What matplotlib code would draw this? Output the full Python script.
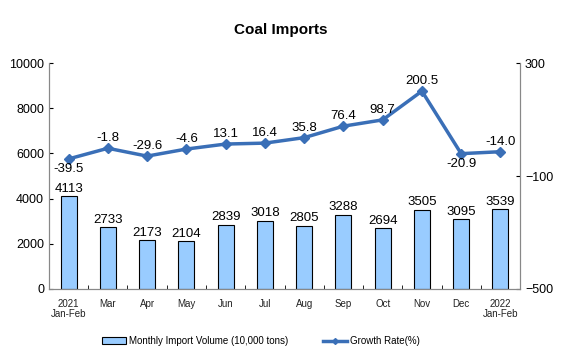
import matplotlib.pyplot as plt
from matplotlib.lines import Line2D
from matplotlib.patches import Patch

plt.rcParams['font.family'] = ['Liberation Sans', 'DejaVu Sans']

months = ["2021\nJan-Feb", "Mar", "Apr", "May", "Jun", "Jul", "Aug", "Sep",
          "Oct", "Nov", "Dec", "2022\nJan-Feb"]
volume = [4113, 2733, 2173, 2104, 2839, 3018, 2805, 3288, 2694, 3505, 3095, 3539]
growth = [-39.5, -1.8, -29.6, -4.6, 13.1, 16.4, 35.8, 76.4, 98.7, 200.5, -20.9, -14.0]
# which growth labels sit under the point
below = [True, False, False, False, False, False, False, False, False, False, True, False]

bar_color = "#99CCFF"
line_color = "#3A6FB7"

fig = plt.figure(figsize=(5.61, 3.57), dpi=100)
ax = fig.add_axes([0.0873, 0.1905, 0.8397, 0.633])
ax2 = ax.twinx()

x = list(range(len(months)))
ax.bar(x, volume, width=0.41, color=bar_color, edgecolor="black", linewidth=0.8)
for xi, v in zip(x, volume):
    ax.text(xi, v + 60, str(v), ha="center", va="bottom", fontsize=9.5)

ax.set_xlim(-0.5, len(months) - 0.5)
ax.set_ylim(0, 10000)
ax.set_yticks(range(0, 10001, 2000))
ax.set_xticks(x)
ax.set_xticklabels(months, fontsize=7, color="#222222", linespacing=1.05)
ax.set_xticks([i + 0.5 for i in x[:-1]], minor=True)
ax.tick_params(axis="x", which="major", length=0, pad=7)
ax.tick_params(axis="x", which="minor", length=3, direction="in")
ax.tick_params(axis="y", direction="in", length=3, labelsize=9)

ax2.plot(x, growth, color=line_color, linewidth=2.5, marker="D", markersize=5)
for xi, g, b in zip(x, growth, below):
    if b:
        ax2.text(xi, g - 14, f"{g:.1f}", ha="center", va="top", fontsize=9.5)
    else:
        ax2.text(xi, g + 14, f"{g:.1f}", ha="center", va="bottom", fontsize=9.5)
ax2.set_ylim(-500, 300)
ax2.set_yticks([-500, -100, 300])
ax2.tick_params(axis="y", direction="in", length=3, labelsize=9)

for a in (ax, ax2):
    a.spines["top"].set_visible(False)
    for s in ("left", "right", "bottom"):
        a.spines[s].set_color("#888888")
        a.spines[s].set_linewidth(0.8)

fig.text(0.5, 0.915, "Coal Imports", ha="center", va="center", fontsize=11, fontweight="bold")

handles = [Patch(facecolor=bar_color, edgecolor="black", linewidth=0.8),
           Line2D([0], [0], color=line_color, linewidth=2.5, marker="D", markersize=3)]
fig.legend(handles, ["Monthly Import Volume (10,000 tons)", "Growth Rate(%)"],
           loc="center", bbox_to_anchor=(0.465, 0.045), ncol=2, frameon=False,
           fontsize=7, handlelength=2.5, columnspacing=3.5, handletextpad=0.3)

fig.savefig("out.png", dpi=100)
